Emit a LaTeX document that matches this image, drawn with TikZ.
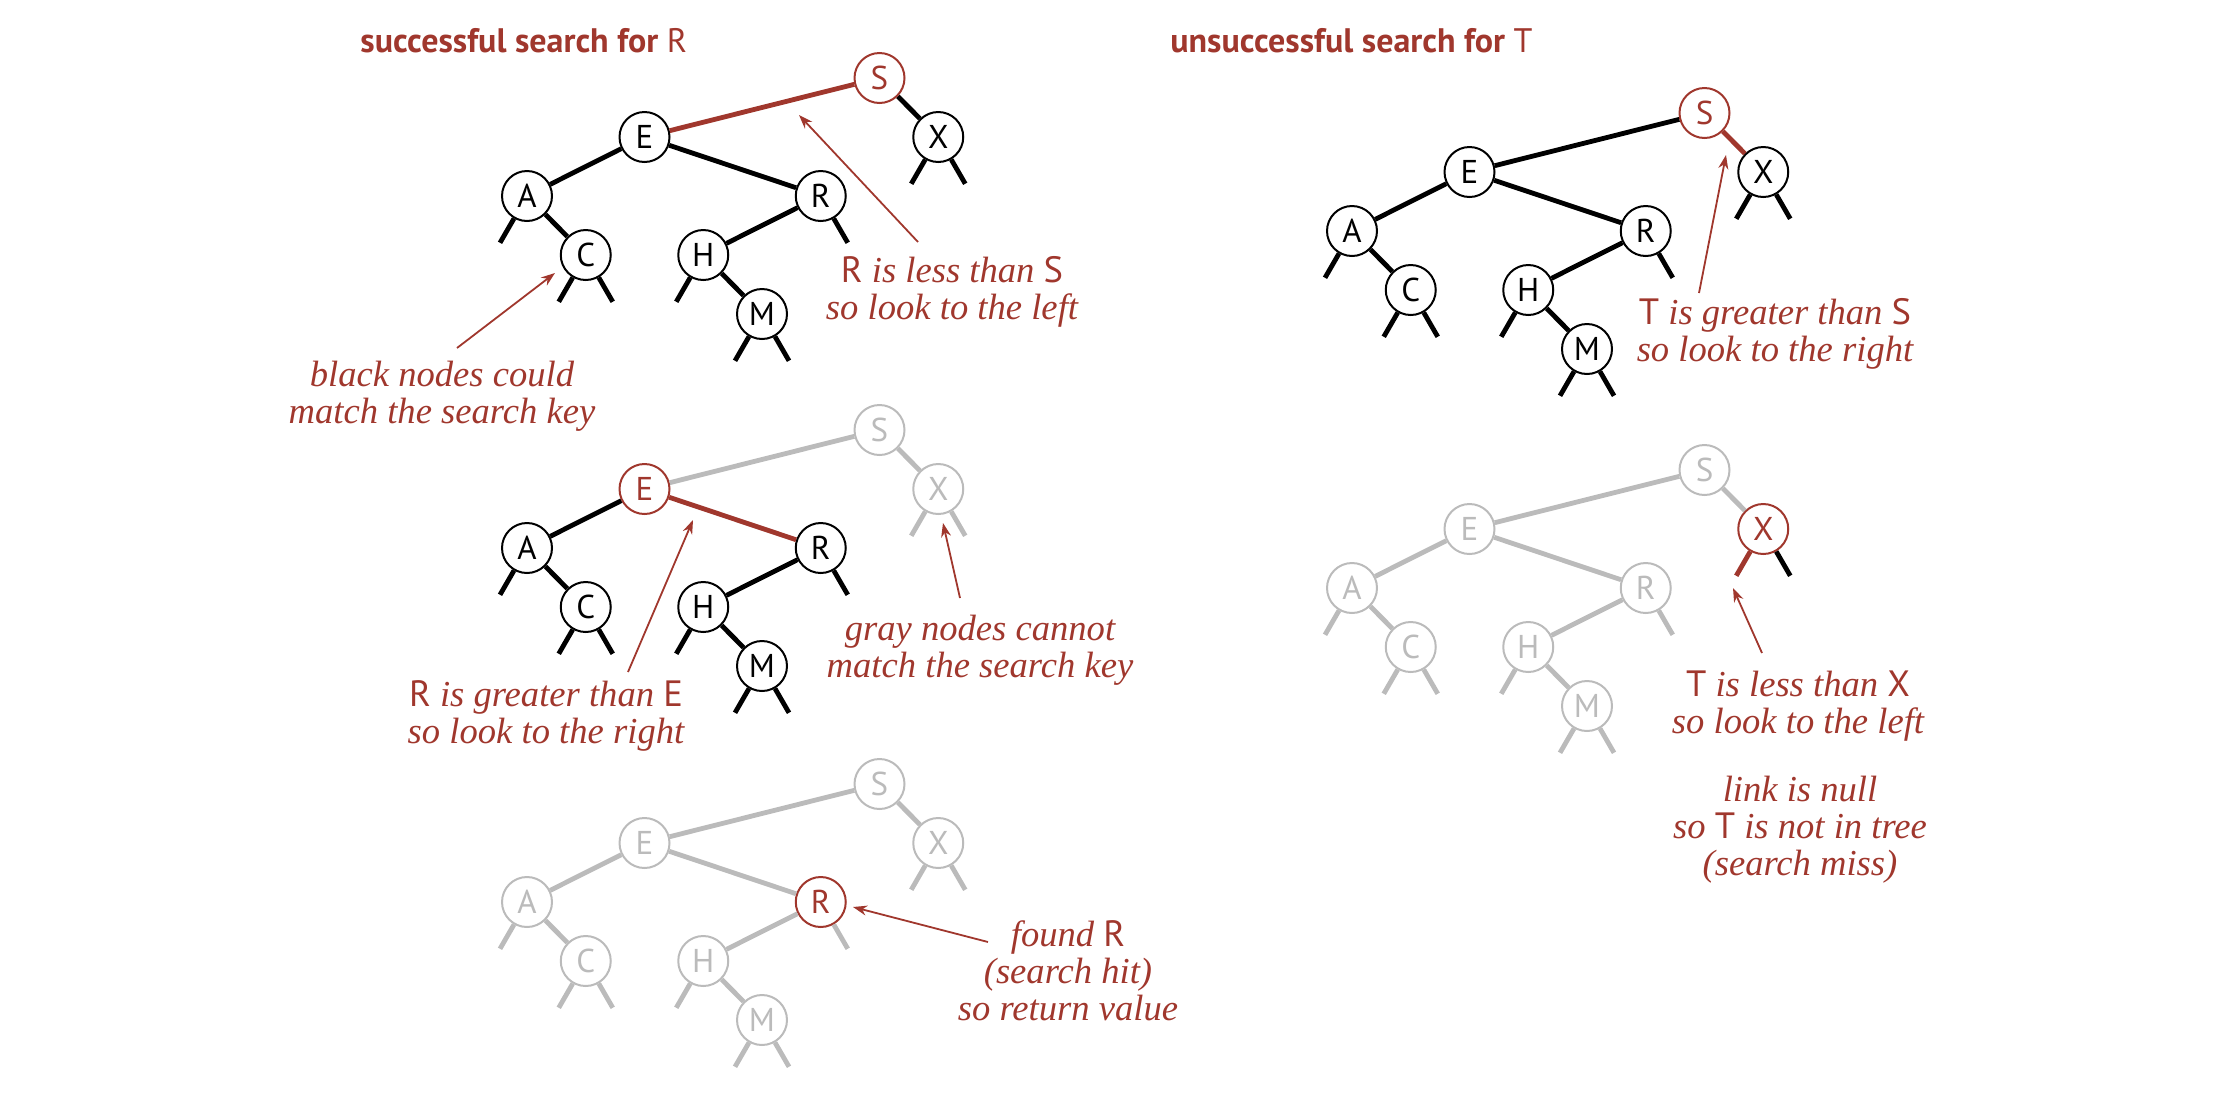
\documentclass[tikz,border=0pt]{standalone}
\usepackage{fontspec}
\setmainfont{Liberation Serif}
\setsansfont{PT Sans}
\usepackage{tikz}
\usetikzlibrary{arrows.meta}
\definecolor{keyred}{RGB}{160,55,45}
\definecolor{offgray}{RGB}{187,187,187}
\newcommand{\kee}[1]{\textsf{\upshape #1}}

\begin{document}
\begin{tikzpicture}[x=0.5pt,y=-0.5pt]
\tikzstyle{live}=[circle,draw=black,fill=white,line width=1pt,minimum size=25pt,inner sep=0pt,font=\fontsize{16.5}{16.5}\selectfont\sffamily]
\tikzstyle{hit}=[live,draw=keyred,text=keyred]
\tikzstyle{dead}=[live,draw=offgray,text=offgray]
\tikzstyle{link}=[line width=2.4pt,black]
\tikzstyle{hitlink}=[link,keyred]
\tikzstyle{deadlink}=[link,offgray]
\tikzstyle{note}=[font=\fontsize{18.3}{18.5}\selectfont\itshape,text=keyred,align=center,anchor=base,inner sep=0pt]
\tikzstyle{pointer}=[keyred,line width=0.9pt,-{Stealth[length=7pt,width=5pt]}]
\tikzstyle{title}=[font=\fontsize{17}{17}\selectfont\sffamily\bfseries,text=keyred,anchor=base west,inner sep=0pt]
\useasboundingbox (0,0) rectangle (2234,1104);

\node[title] (t_hit) at (360,52) {successful search for \mdseries R};
\node[title] (t_miss) at (1170,52) {unsuccessful search for \mdseries T};

\begin{scope}[xshift=263.5pt,yshift=-39pt,x=29.375pt,y=-29.5pt]
\node[hit] (a_S) at (6,0) {S};
\node[live] (a_E) at (2,1) {E};
\node[live] (a_X) at (7,1) {X};
\node[live] (a_A) at (0,2) {A};
\node[live] (a_R) at (5,2) {R};
\node[live] (a_C) at (1,3) {C};
\node[live] (a_H) at (3,3) {H};
\node[live] (a_M) at (4,4) {M};
\draw[hitlink] (a_S) -- (a_E);
\draw[link] (a_S) -- (a_X);
\draw[link] (a_E) -- (a_A);
\draw[link] (a_E) -- (a_R);
\draw[link] (a_A) -- (a_C);
\draw[link] (a_R) -- (a_H);
\draw[link] (a_H) -- (a_M);
\foreach \n/\a/\s in {A/240/link,C/240/link,C/300/link,H/240/link,M/240/link,M/300/link,R/300/link,X/240/link,X/300/link}
  \draw[\s] (a_\n) -- ([shift={(\a:27pt)}]a_\n.center);
\end{scope}

\begin{scope}[xshift=676pt,yshift=-56.5pt,x=29.375pt,y=-29.5pt]
\node[hit] (b_S) at (6,0) {S};
\node[live] (b_E) at (2,1) {E};
\node[live] (b_X) at (7,1) {X};
\node[live] (b_A) at (0,2) {A};
\node[live] (b_R) at (5,2) {R};
\node[live] (b_C) at (1,3) {C};
\node[live] (b_H) at (3,3) {H};
\node[live] (b_M) at (4,4) {M};
\draw[link] (b_S) -- (b_E);
\draw[hitlink] (b_S) -- (b_X);
\draw[link] (b_E) -- (b_A);
\draw[link] (b_E) -- (b_R);
\draw[link] (b_A) -- (b_C);
\draw[link] (b_R) -- (b_H);
\draw[link] (b_H) -- (b_M);
\foreach \n/\a/\s in {A/240/link,C/240/link,C/300/link,H/240/link,M/240/link,M/300/link,R/300/link,X/240/link,X/300/link}
  \draw[\s] (b_\n) -- ([shift={(\a:27pt)}]b_\n.center);
\end{scope}

\begin{scope}[xshift=263.5pt,yshift=-215pt,x=29.375pt,y=-29.5pt]
\node[dead] (c_S) at (6,0) {S};
\node[hit] (c_E) at (2,1) {E};
\node[dead] (c_X) at (7,1) {X};
\node[live] (c_A) at (0,2) {A};
\node[live] (c_R) at (5,2) {R};
\node[live] (c_C) at (1,3) {C};
\node[live] (c_H) at (3,3) {H};
\node[live] (c_M) at (4,4) {M};
\draw[deadlink] (c_S) -- (c_E);
\draw[deadlink] (c_S) -- (c_X);
\draw[link] (c_E) -- (c_A);
\draw[hitlink] (c_E) -- (c_R);
\draw[link] (c_A) -- (c_C);
\draw[link] (c_R) -- (c_H);
\draw[link] (c_H) -- (c_M);
\foreach \n/\a/\s in {A/240/link,C/240/link,C/300/link,H/240/link,M/240/link,M/300/link,R/300/link,X/240/deadlink,X/300/deadlink}
  \draw[\s] (c_\n) -- ([shift={(\a:27pt)}]c_\n.center);
\end{scope}

\begin{scope}[xshift=263.5pt,yshift=-392pt,x=29.375pt,y=-29.5pt]
\node[dead] (d_S) at (6,0) {S};
\node[dead] (d_E) at (2,1) {E};
\node[dead] (d_X) at (7,1) {X};
\node[dead] (d_A) at (0,2) {A};
\node[hit] (d_R) at (5,2) {R};
\node[dead] (d_C) at (1,3) {C};
\node[dead] (d_H) at (3,3) {H};
\node[dead] (d_M) at (4,4) {M};
\draw[deadlink] (d_S) -- (d_E);
\draw[deadlink] (d_S) -- (d_X);
\draw[deadlink] (d_E) -- (d_A);
\draw[deadlink] (d_E) -- (d_R);
\draw[deadlink] (d_A) -- (d_C);
\draw[deadlink] (d_R) -- (d_H);
\draw[deadlink] (d_H) -- (d_M);
\foreach \n/\a/\s in {A/240/deadlink,C/240/deadlink,C/300/deadlink,H/240/deadlink,M/240/deadlink,M/300/deadlink,R/300/deadlink,X/240/deadlink,X/300/deadlink}
  \draw[\s] (d_\n) -- ([shift={(\a:27pt)}]d_\n.center);
\end{scope}

\begin{scope}[xshift=676pt,yshift=-235pt,x=29.375pt,y=-29.5pt]
\node[dead] (e_S) at (6,0) {S};
\node[dead] (e_E) at (2,1) {E};
\node[hit] (e_X) at (7,1) {X};
\node[dead] (e_A) at (0,2) {A};
\node[dead] (e_R) at (5,2) {R};
\node[dead] (e_C) at (1,3) {C};
\node[dead] (e_H) at (3,3) {H};
\node[dead] (e_M) at (4,4) {M};
\draw[deadlink] (e_S) -- (e_E);
\draw[deadlink] (e_S) -- (e_X);
\draw[deadlink] (e_E) -- (e_A);
\draw[deadlink] (e_E) -- (e_R);
\draw[deadlink] (e_A) -- (e_C);
\draw[deadlink] (e_R) -- (e_H);
\draw[deadlink] (e_H) -- (e_M);
\foreach \n/\a/\s in {A/240/deadlink,C/240/deadlink,C/300/deadlink,H/240/deadlink,M/240/deadlink,M/300/deadlink,R/300/deadlink,X/240/hitlink,X/300/link}
  \draw[\s] (e_\n) -- ([shift={(\a:27pt)}]e_\n.center);
\end{scope}

\node[note] (n_less) at (952,319) {\kee{R} is less than \kee{S}\\so look to the left};
\node[note] (n_black) at (442,423) {black nodes could\\match the search key};
\node[note] (n_greater) at (1775,361) {\kee{T} is greater than \kee{S}\\so look to the right};
\node[note] (n_right) at (546,743) {\kee{R} is greater than \kee{E}\\so look to the right};
\node[note] (n_gray) at (980,677) {gray nodes cannot\\match the search key};
\node[note] (n_found) at (1068,1020) {found \kee{R}\\(search hit)\\so return value};
\node[note] (n_left) at (1798,733) {\kee{T} is less than \kee{X}\\so look to the left};
\node[note] (n_null) at (1800,875) {link is null\\so \kee{T} is not in tree\\(search miss)};

\coordinate (p_less) at (918,242);
\coordinate (q_less) at (799,115);
\coordinate (p_black) at (457,348);
\coordinate (q_black) at (555,273);
\coordinate (p_greater) at (1699,293);
\coordinate (q_greater) at (1726,155);
\coordinate (p_right) at (628,672);
\coordinate (q_right) at (693,520);
\coordinate (p_gray) at (960,598);
\coordinate (q_gray) at (943,523);
\coordinate (p_found) at (988,942);
\coordinate (q_found) at (853,907);
\coordinate (p_left) at (1762,653);
\coordinate (q_left) at (1733,588);
\draw[pointer] (p_less) -- (q_less);
\draw[pointer] (p_black) -- (q_black);
\draw[pointer] (p_greater) -- (q_greater);
\draw[pointer] (p_right) -- (q_right);
\draw[pointer] (p_gray) -- (q_gray);
\draw[pointer] (p_found) -- (q_found);
\draw[pointer] (p_left) -- (q_left);
\end{tikzpicture}
\end{document}
